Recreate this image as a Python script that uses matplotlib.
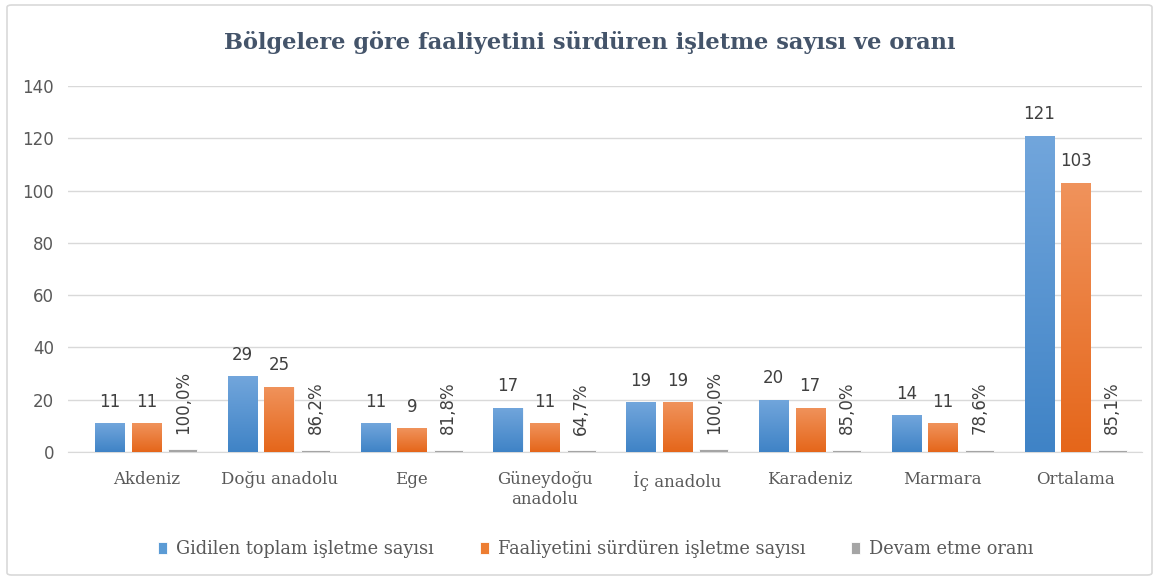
import numpy as np
import matplotlib
matplotlib.use("Agg")
import matplotlib.pyplot as plt
from matplotlib.patches import FancyBboxPatch
from matplotlib.colors import LinearSegmentedColormap

# ── Data ────────────────────────────────────────────────────────────────────
regions = ["Akdeniz", "Doğu anadolu", "Ege", "Güneydoğu\nanadolu",
           "İç anadolu", "Karadeniz", "Marmara", "Ortalama"]
total_visited = [11, 29, 11, 17, 19, 20, 14, 121]
still_active = [11, 25, 9, 11, 19, 17, 11, 103]
continue_rate = [1.000, 0.862, 0.818, 0.647, 1.000, 0.850, 0.786, 0.851]
rate_labels = ["100,0%", "86,2%", "81,8%", "64,7%", "100,0%", "85,0%", "78,6%", "85,1%"]

series_names = ["Gidilen toplam işletme sayısı",
                "Faaliyetini sürdüren işletme sayısı",
                "Devam etme oranı"]

TEXT = "#595959"
GRID = "#D9D9D9"
SERIF = ["DejaVu Serif"]
SANS = ["DejaVu Sans"]

fig = plt.figure(figsize=(11.59, 5.80), dpi=100)
ax = fig.add_axes([68 / 1159, 128 / 580, (1142 - 68) / 1159, (452 - 86) / 580])

x = np.arange(len(regions))
w = 0.22
step = 0.275

blue = LinearSegmentedColormap.from_list("b", ["#3F83C6", "#72A6DC"])
orange = LinearSegmentedColormap.from_list("o", ["#E5661A", "#F0935C"])
grad = np.linspace(0, 1, 256).reshape(-1, 1)

def gradient_bars(xs, vals, cmap, base):
    bars = ax.bar(xs, vals, w, color=base, edgecolor="white", linewidth=0.6, zorder=3)
    for b in bars:
        x0, y0 = b.get_x(), b.get_y()
        im = ax.imshow(grad, cmap=cmap, origin="lower", aspect="auto",
                       extent=[x0, x0 + b.get_width(), y0, y0 + b.get_height()],
                       zorder=3.5)
        im.set_clip_path(b)
    return bars

b1 = gradient_bars(x - step, total_visited, blue, "#5B9BD5")
b2 = gradient_bars(x, still_active, orange, "#ED7D31")
b3 = ax.bar(x + step, continue_rate, w, color="#A5A5A5", edgecolor="white",
            linewidth=0.6, zorder=3)

for xi, v in zip(x - step, total_visited):
    ax.text(xi, v + 4.8, str(v), ha="center", va="bottom", fontsize=12,
            color="#404040", family=SANS, zorder=5)
for xi, v in zip(x, still_active):
    ax.text(xi, v + 4.8, str(v), ha="center", va="bottom", fontsize=12,
            color="#404040", family=SANS, zorder=5)
for xi, v, lab in zip(x + step, continue_rate, rate_labels):
    ax.text(xi, v + 6.0, lab, ha="center", va="bottom", rotation=90,
            fontsize=12, color="#404040", family=SANS, zorder=5)

ax.set_xlim(-0.59, 7.5)
ax.set_ylim(0, 140)
ax.set_yticks(range(0, 141, 20))
ax.yaxis.grid(True, color=GRID, linewidth=1)
ax.set_axisbelow(True)
for s in ["top", "right", "left"]:
    ax.spines[s].set_visible(False)
ax.spines["bottom"].set_color(GRID)
ax.tick_params(axis="both", length=0, colors=TEXT)
ax.tick_params(axis="y", labelsize=12, pad=10)
ax.set_yticklabels([str(t) for t in range(0, 141, 20)], family=SANS)
ax.set_xticks(x)
ax.set_xticklabels(regions, family=SERIF, fontsize=12, linespacing=1.2)
ax.tick_params(axis="x", pad=14)
ax.set_facecolor("none")

fig.text(0.509, 1 - 42 / 580, "Bölgelere göre faaliyetini sürdüren işletme sayısı ve oranı",
         ha="center", va="center", fontsize=16.2, fontweight="bold",
         color="#44546A", family=SERIF)

leg = fig.legend([b1[0], b2[0], b3[0]], series_names, loc="center",
                 bbox_to_anchor=(0.514, 1 - 549 / 580), ncol=3, frameon=False,
                 handlelength=0.5, handleheight=0.7, columnspacing=2.6,
                 handletextpad=0.5, prop={"family": SERIF, "size": 12.8})
for t in leg.get_texts():
    t.set_color(TEXT)

border = FancyBboxPatch((7 / 1159, 5 / 580), 1145 / 1159, 570 / 580,
                        boxstyle="round,pad=0,rounding_size=0.004",
                        transform=fig.transFigure, facecolor="none",
                        edgecolor="#D9D9D9", linewidth=1.2)
fig.patches.append(border)

fig.savefig("out.png", dpi=100)
